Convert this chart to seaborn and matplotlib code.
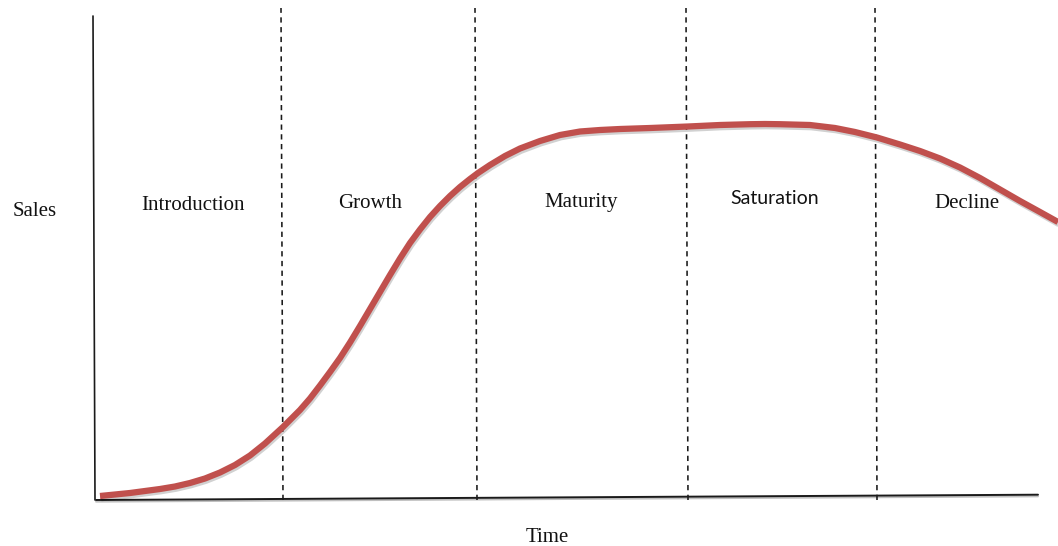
import matplotlib
matplotlib.use("Agg")
import matplotlib.pyplot as plt
import matplotlib.patheffects as pe
import seaborn as sns
import pandas as pd

# Product life cycle: sales over time (arbitrary units)
time = [6, 21, 36, 51, 66, 81, 96, 111, 126, 141, 156, 171,
        189, 206, 216, 226, 236, 246, 256, 266, 276, 286, 296, 306, 316,
        326, 336, 346, 356, 366, 376, 384, 396,
        411, 426, 446, 466, 486, 506, 526, 556, 594, 626, 656, 671, 686, 716,
        741, 761, 783,
        806, 826, 846, 866, 886, 906, 926, 946, 964]
sales = [4, 5.5, 7, 9, 11, 13.5, 17, 21.5, 27.5, 35, 44.5, 56.5,
         73, 90, 101.5, 114.5, 128, 142, 157.5, 174, 191, 208, 225, 241.5, 257,
         270.5, 283, 294, 304, 313, 321, 327, 335,
         344, 351.5, 359, 365, 368.5, 370, 371, 372, 373.5, 375, 375.8, 376, 375.8, 375,
         372, 368, 362.5,
         355.5, 349, 341.5, 332.5, 322, 310.5, 299, 288, 278]

# Stage boundaries along the time axis and stage names
boundaries = [189, 383, 594, 783]
stages = ["Introduction", "Growth", "Maturity", "Saturation", "Decline"]
stage_x = [99, 276, 487, 681, 873]
stage_y = [294, 297, 298, 301, 297]

T_MAX, S_MAX = 944, 484

sns.set_style("white")
plt.rcParams["font.family"] = ["Liberation Serif", "DejaVu Serif"]

W, H = 1058, 546
fig = plt.figure(figsize=(W / 100, H / 100), dpi=100)
left, right, bottom, top = 94, 1038, 500, 16
ax = fig.add_axes([left / W, (H - bottom) / H, (right - left) / W, (bottom - top) / H])

# Axes drawn as plain lines
ax.plot([-1, 1], [S_MAX, 0], color="#1a1a1a", lw=1.2, clip_on=False)
ax.plot([2, T_MAX], [0, 5.3], color="#1a1a1a", lw=1.4, clip_on=False,
        path_effects=[pe.SimpleLineShadow(offset=(0, -1.2), shadow_color="k", alpha=0.25),
                      pe.Normal()])

# Dashed stage separators
for b in boundaries:
    ax.plot([b, b - 2], [0, 492], color="#1a1a1a", lw=1.15,
            linestyle=(0, (3.3, 2.8)), clip_on=False)

df = pd.DataFrame({"time": time, "sales": sales})
sns.lineplot(data=df, x="time", y="sales", ax=ax, sort=False, estimator=None,
             color="#C0504D", lw=4.5, clip_on=False,
             solid_capstyle="butt", solid_joinstyle="round",
             path_effects=[pe.SimpleLineShadow(offset=(0.8, -1.6), shadow_color="k", alpha=0.18),
                           pe.Normal()])
ax.set_xlim(0, T_MAX)
ax.set_ylim(0, S_MAX)
ax.axis("off")

for name, x, y in zip(stages, stage_x, stage_y):
    if name == "Saturation":
        ax.text(x, y, name, ha="center", va="center", fontsize=14,
                family=["Lato", "DejaVu Sans"], color="#111111")
    else:
        ax.text(x, y, name, ha="center", va="center", fontsize=15, color="#111111")

ax.text(-59, 289, "Sales", ha="center", va="center", fontsize=15,
        color="#111111", clip_on=False)
ax.text(453, -37, "Time", ha="center", va="center", fontsize=15,
        color="#111111", clip_on=False)

fig.savefig("out.png", dpi=100)
